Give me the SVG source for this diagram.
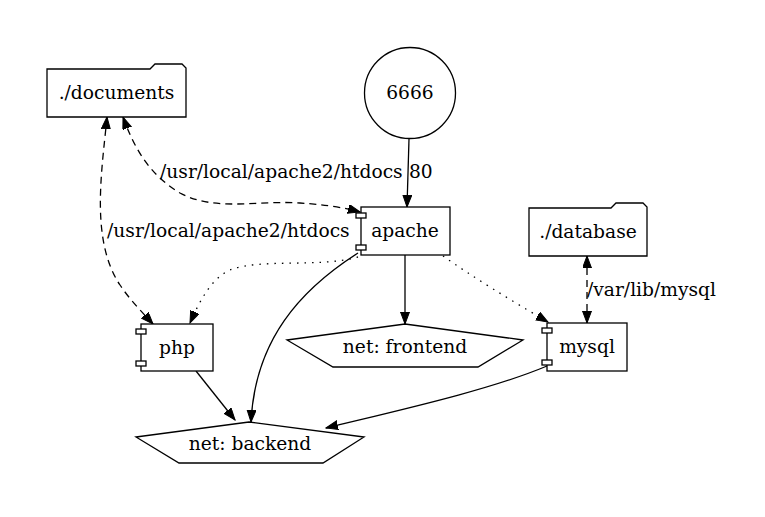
<svg xmlns="http://www.w3.org/2000/svg" width="765" height="517" viewBox="0 0 765 517">
<style>
text{font-family:"DejaVu Serif",serif;font-size:18.67px;fill:#000}
.c{text-anchor:middle}
.n{fill:#fff;stroke:#000;stroke-width:1.3}
.e{fill:none;stroke:#000;stroke-width:1.3}
.d{stroke-dasharray:7,5}
.o{stroke-dasharray:1.5,6}
</style>
<defs>
<marker id="a" markerUnits="userSpaceOnUse" markerWidth="13" markerHeight="10" refX="12" refY="4.5" orient="auto-start-reverse" viewBox="0 0 13 10">
<path d="M0,0 L12,4.5 L0,9 Z" fill="#000" stroke="#000" stroke-width="1"/>
</marker>
</defs>
<rect width="765" height="517" fill="#fff"/>
<g id="connectors">
<path class="e" d="M409,139 L407,207" marker-end="url(#a)"/>
<path class="e d" d="M123,117 C135,150 150,175 180,193 C215,212 260,200 300,203 C330,205 345,208 360,212" marker-start="url(#a)" marker-end="url(#a)"/>
<path class="e d" d="M107,117 C102,170 90,240 120,285 C130,300 142,312 153,324" marker-start="url(#a)" marker-end="url(#a)"/>
<path class="e o" d="M358,257 C320,268 260,258 230,270 C212,278 200,300 190,323" marker-end="url(#a)"/>
<path class="e" d="M358,253 C300,290 255,340 251,422" marker-end="url(#a)"/>
<path class="e" d="M405,255 L405,324" marker-end="url(#a)"/>
<path class="e o" d="M443,256 C470,275 510,300 548,322" marker-end="url(#a)"/>
<path class="e d" d="M587,256 L587,323" marker-start="url(#a)" marker-end="url(#a)"/>
<path class="e" d="M196,371 L235,420" marker-end="url(#a)"/>
<path class="e" d="M547,366 C490,390 400,410 326,428" marker-end="url(#a)"/>
<text x="409" y="178">80</text>
<text x="160" y="178">/usr/local/apache2/htdocs</text>
<text x="107" y="237">/usr/local/apache2/htdocs</text>
<text x="587" y="296">/var/lib/mysql</text>
</g>
<g id="documents">
<path class="n" d="M47,117 L47,69 L150,69 L155,64 L182,64 L186,68 L186,117 Z"/>
<text class="c" x="116.5" y="99">./documents</text>
</g>
<g id="port6666">
<circle class="n" cx="410" cy="93" r="45.5"/>
<text class="c" x="410" y="99">6666</text>
</g>
<g id="apache">
<rect class="n" x="361" y="207" width="89" height="48"/>
<rect class="n" x="356" y="213" width="10" height="5"/>
<rect class="n" x="356" y="245" width="10" height="5"/>
<text class="c" x="405" y="237">apache</text>
</g>
<g id="database">
<path class="n" d="M529,256 L529,208 L611,208 L616,203 L643,203 L647,207 L647,256 Z"/>
<text class="c" x="588" y="238">./database</text>
</g>
<g id="php">
<rect class="n" x="141" y="324" width="72" height="47"/>
<rect class="n" x="136" y="329" width="10" height="5"/>
<rect class="n" x="136" y="361" width="10" height="5"/>
<text class="c" x="177" y="354">php</text>
</g>
<g id="frontend">
<path class="n" d="M405,324 L523,340 L478,367 L333,367 L287,340 Z"/>
<text class="c" x="405" y="353">net: frontend</text>
</g>
<g id="mysql">
<rect class="n" x="547" y="323" width="80" height="48"/>
<rect class="n" x="542" y="328" width="10" height="5"/>
<rect class="n" x="542" y="360" width="10" height="5"/>
<text class="c" x="587" y="353">mysql</text>
</g>
<g id="backend">
<path class="n" d="M249,422 L364,437 L323,463 L179,463 L136,437 Z"/>
<text class="c" x="250" y="450">net: backend</text>
</g>
</svg>
